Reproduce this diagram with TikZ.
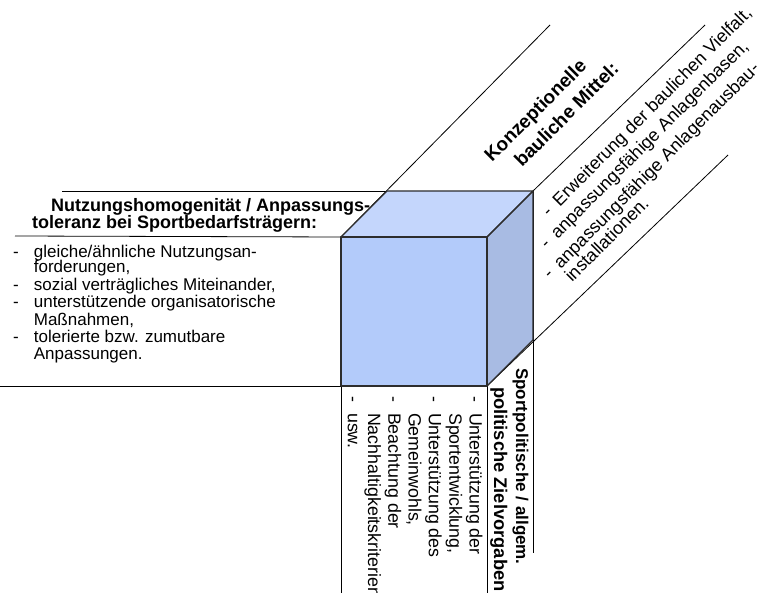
\documentclass[tikz,border=0pt]{standalone}
\usepackage{fontspec}
\setmainfont{Liberation Sans}
\usetikzlibrary{positioning}

\definecolor{frontblue}{RGB}{179,203,250}
\definecolor{topblue}{RGB}{196,214,252}
\definecolor{sideblue}{RGB}{168,187,227}
\definecolor{edgegray}{RGB}{45,45,45}

\tikzset{
  boldtext/.style={font=\fontsize{18}{19}\selectfont\bfseries, inner sep=0pt},
  listtext/.style={font=\fontsize{17}{17}\selectfont, inner sep=0pt},
  sidetext/.style={font=\fontsize{18}{19}\selectfont, inner sep=0pt},
  face/.style={draw=edgegray, line width=1.1pt, line join=round},
  rule/.style={draw=black, line width=0.8pt}
}

\begin{document}
\begin{tikzpicture}[x=1pt, y=-1pt]
    \useasboundingbox (0,0) rectangle (762,593);

    % corners of the cube
    \coordinate (ftl) at (341,237);
    \coordinate (ftr) at (487,237);
    \coordinate (fbr) at (487,386);
    \coordinate (fbl) at (341,386);
    \coordinate (btl) at (387,191);
    \coordinate (btr) at (533,191);
    \coordinate (bbr) at (533,340);

    % free ends of the guide lines
    \coordinate (topl) at (62,191);
    \coordinate (midl) at (15,236);
    \coordinate (lowl) at (0,386);
    \coordinate (diaga) at (550,25);
    \coordinate (diagb) at (705,25);
    \coordinate (diagc) at (728,155);
    \coordinate (vera) at (341,593);
    \coordinate (verb) at (487,593);
    \coordinate (verc) at (533,553);

    % guide lines
    \draw [rule] (topl) -- (btl);
    \draw [rule] (midl) -- (ftl);
    \draw [rule] (lowl) -- (fbl);
    \draw [rule] (ftl) -- (diaga);
    \draw [rule] (btr) -- (diagb);
    \draw [rule] (fbr) -- (diagc);
    \draw [rule] (fbl) -- (vera);
    \draw [rule] (fbr) -- (verb);
    \draw [rule] (btr) -- (verc);

    % the cube
    \fill [topblue] (ftl) -- (btl) -- (btr) -- (ftr) -- cycle;
    \fill [sideblue] (ftr) -- (btr) -- (bbr) -- (fbr) -- cycle;
    \fill [frontblue] (ftl) -- (ftr) -- (fbr) -- (fbl) -- cycle;
    \draw [face] (ftl) -- (btl) -- (btr) -- (ftr) -- cycle;
    \draw [face] (ftr) -- (btr) -- (bbr) -- (fbr) -- cycle;
    \draw [face] (ftl) -- (ftr) -- (fbr) -- (fbl) -- cycle;

    % left side
    \node [boldtext, anchor=base west] (nutz) at (51,212) {Nutzungshomogenität / Anpassungs-};
    \node [boldtext, anchor=base west] (tol) at (32,229) {toleranz bei Sportbedarfsträgern:};
    \node [listtext, anchor=north west] (uses) at (13,245) {%
      \begin{tabular}{@{}l@{\hspace{15pt}}l@{}}
        - & gleiche/ähnliche Nutzungsan-\\[-2pt]
          & forderungen,\\
        - & sozial verträgliches Miteinander,\\
        - & unterstützende organisatorische\\
          & Maßnahmen,\\
        - & tolerierte bzw. zumutbare\\
          & Anpassungen.
      \end{tabular}};

    % upper right
    \node [boldtext, rotate=45, anchor=base west,
           font=\fontsize{19}{20}\selectfont\bfseries] (konz) at (492,163) {Konzeptionelle};
    \node [boldtext, rotate=45, anchor=base west,
           font=\fontsize{19}{20}\selectfont\bfseries] (baul) at (522,168) {bauliche Mittel:};
    \node [sidetext, rotate=45, anchor=base west] (erw) at (549,218) {-\hspace{9pt}Erweiterung der baulichen Vielfalt,};
    \node [sidetext, rotate=45, anchor=base west] (basen) at (547,250) {-\hspace{9pt}anpassungsfähige Anlagenbasen,};
    \node [sidetext, rotate=45, anchor=base west] (ausb) at (550,280) {-\hspace{9pt}anpassungsfähige Anlagenausbau-};
    \node [sidetext, rotate=45, anchor=base west] (inst) at (572,283) {installationen.};

    % lower right
    \node [boldtext, rotate=-90, anchor=base west,
           font=\fontsize{17}{19}\selectfont\bfseries] (sport) at (516,368) {Sportpolitische / allgem.};
    \node [boldtext, rotate=-90, anchor=base west,
           font=\fontsize{18.3}{19}\selectfont\bfseries] (ziel) at (494,387) {politische Zielvorgaben};
    \node [sidetext, rotate=-90, anchor=north west,
           font=\fontsize{17.8}{20.3}\selectfont] (goals) at (484,396) {%
      \begin{tabular}{@{}l@{\hspace{11pt}}l@{}}
        - & Unterstützung der\\
          & Sportentwicklung,\\
        - & Unterstützung des\\
          & Gemeinwohls,\\
        - & Beachtung der\\
          & Nachhaltigkeitskriterien\\
        - & usw.
      \end{tabular}};
\end{tikzpicture}
\end{document}
